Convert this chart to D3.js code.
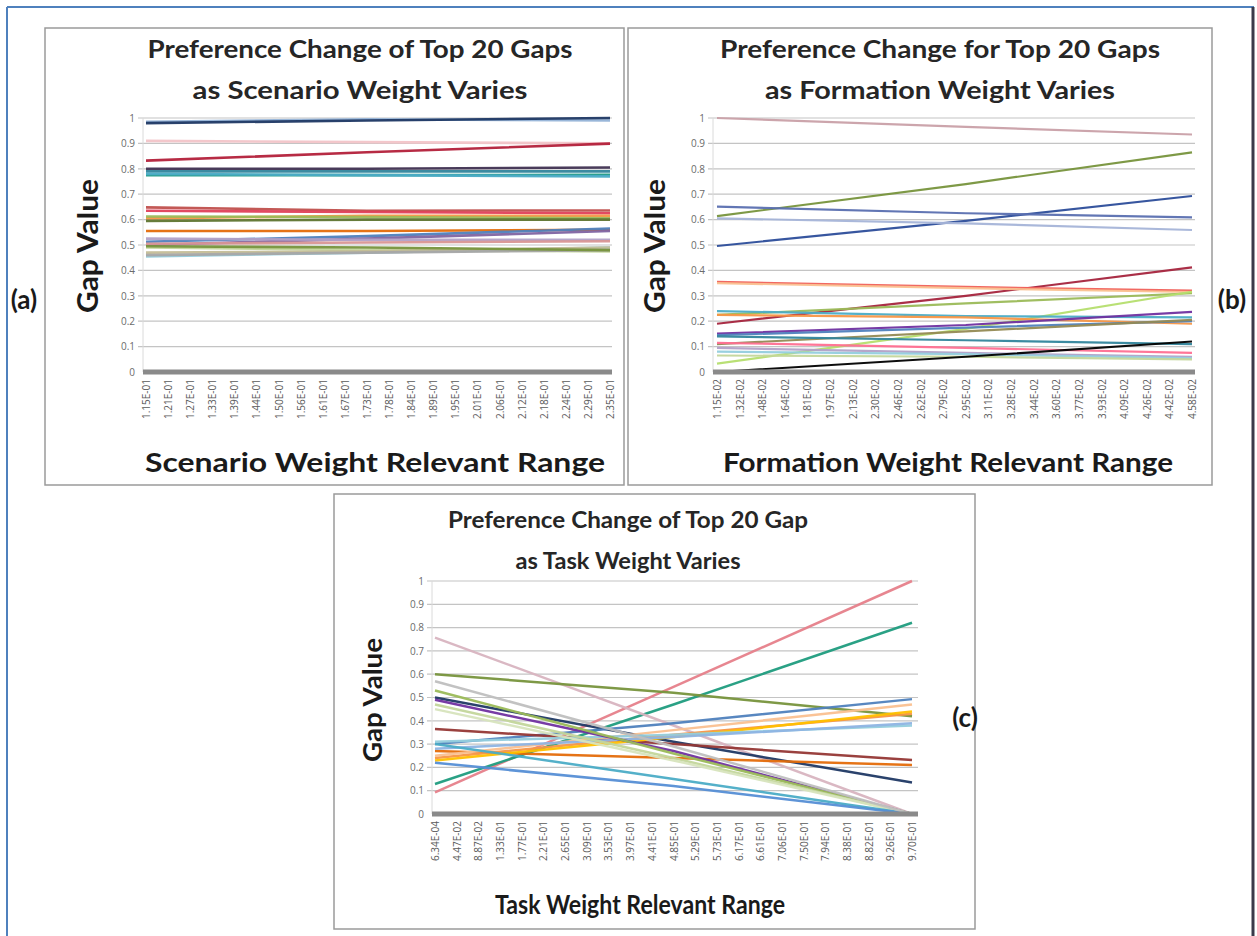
<!DOCTYPE html>
<html>
<head>
<meta charset="utf-8">
<script src="https://cdn.jsdelivr.net/npm/d3@7"></script>
<style>
  body { margin: 0; background: #fff; }
  text { font-family: "Open Sans", "Liberation Sans", sans-serif; }
  .big { font-family: Lato, "Open Sans", sans-serif; font-weight: bold; }
</style>
</head>
<body>
<svg id="fig" width="1257" height="936"></svg>
<script>

// ---- data ----
var yTicks = [0, 0.1, 0.2, 0.3, 0.4, 0.5, 0.6, 0.7, 0.8, 0.9, 1];

var scenarioLabels = ["1.15E-01","1.21E-01","1.27E-01","1.33E-01","1.39E-01","1.44E-01","1.50E-01","1.56E-01",
  "1.61E-01","1.67E-01","1.73E-01","1.78E-01","1.84E-01","1.89E-01","1.95E-01","2.01E-01","2.06E-01",
  "2.12E-01","2.18E-01","2.24E-01","2.29E-01","2.35E-01"];
var formationLabels = ["1.15E-02","1.32E-02","1.48E-02","1.64E-02","1.81E-02","1.97E-02","2.13E-02","2.30E-02",
  "2.46E-02","2.62E-02","2.79E-02","2.95E-02","3.11E-02","3.28E-02","3.44E-02","3.60E-02","3.77E-02",
  "3.93E-02","4.09E-02","4.26E-02","4.42E-02","4.58E-02"];
var taskLabels = ["6.34E-04","4.47E-02","8.87E-02","1.33E-01","1.77E-01","2.21E-01","2.65E-01","3.09E-01",
  "3.53E-01","3.97E-01","4.41E-01","4.85E-01","5.29E-01","5.73E-01","6.17E-01","6.61E-01","7.06E-01",
  "7.50E-01","7.94E-01","8.38E-01","8.82E-01","9.26E-01","9.70E-01"];

// categories at which each gap value was read (first, middle, last)
var scenarioSamples = ["1.15E-01", "1.73E-01", "2.35E-01"];
var formationSamples = ["1.15E-02", "2.95E-02", "4.58E-02"];
var taskSamples = ["6.34E-04", "4.85E-01", "9.70E-01"];

var scenarioGaps = [
  [0.91, 0.905, 0.90], [0.985, 0.995, 0.99], [0.98, 0.99, 1.0], [0.832, 0.865, 0.899],
  [0.80, 0.80, 0.805], [0.79, 0.79, 0.79], [0.775, 0.775, 0.776], [0.78, 0.775, 0.77],
  [0.648, 0.635, 0.636], [0.635, 0.63, 0.625], [0.605, 0.615, 0.615], [0.612, 0.61, 0.605],
  [0.595, 0.60, 0.60], [0.555, 0.555, 0.56], [0.513, 0.535, 0.565], [0.50, 0.525, 0.555],
  [0.525, 0.52, 0.52], [0.505, 0.51, 0.515], [0.49, 0.48, 0.475], [0.455, 0.47, 0.49],
  [0.47, 0.475, 0.49], [0.46, 0.47, 0.48], [0.495, 0.49, 0.48]
];
var formationGaps = [
  [1.0, 0.965, 0.935], [0.614, 0.74, 0.865], [0.496, 0.595, 0.693], [0.651, 0.625, 0.609],
  [0.605, 0.585, 0.559], [0.19, 0.30, 0.412], [0.355, 0.335, 0.32], [0.35, 0.33, 0.315],
  [0.225, 0.27, 0.31], [0.033, 0.17, 0.316], [0.24, 0.22, 0.215], [0.225, 0.215, 0.19],
  [0.151, 0.185, 0.237], [0.145, 0.175, 0.20], [0.11, 0.16, 0.205], [0.14, 0.125, 0.11],
  [0.115, 0.095, 0.075], [0.095, 0.075, 0.06], [0.08, 0.07, 0.055], [0.065, 0.06, 0.05],
  [0.0, 0.06, 0.12]
];
var taskGaps = [
  [0.093, 0.546, 1.0], [0.129, 0.47, 0.821], [0.757, 0.38, 0.0], [0.60, 0.52, 0.42],
  [0.50, 0.31, 0.135], [0.30, 0.39, 0.493], [0.365, 0.30, 0.232], [0.27, 0.24, 0.21],
  [0.24, 0.34, 0.43], [0.25, 0.36, 0.47], [0.23, 0.33, 0.44], [0.31, 0.34, 0.38],
  [0.28, 0.33, 0.39], [0.49, 0.27, 0.0], [0.53, 0.26, 0.0], [0.47, 0.24, 0.0],
  [0.45, 0.23, 0.0], [0.30, 0.15, 0.0], [0.22, 0.12, 0.0], [0.57, 0.29, 0.0]
];

var scenarioColors = ["#f2c4c8","#95b3d7","#1f3864","#b3203a","#403152","#31859c","#1d9a86","#4bacc6",
  "#c0504d","#e0405a","#f79646","#9bbb59","#5f7530","#e46c0a","#4f81bd","#8064a2",
  "#b2a1c7","#d99694","#c3d69b","#93cddd","#c4bd97","#a6a6a6","#77933c"];
var formationColors = ["#c9a0a8","#77933c","#2c4d9a","#5a6fb0","#a5b4d8","#a5243d","#f0605a","#fac090",
  "#9bbb59","#b5de6e","#4bacc6","#f79646","#7030a0","#4f81bd","#948a54","#31859c",
  "#ff6f91","#b2a1c7","#93cddd","#c3d69b","#000000"];
var taskColors = ["#e6808a","#1f9c7e","#d8b4c0","#77933c","#1f3864","#4f81bd","#953735","#e46c0a",
  "#f79646","#fac090","#ffc000","#93cddd","#8eb4e3","#7030a0","#9bbb59","#c3d69b",
  "#d7e4bd","#4bacc6","#558ed5","#bfbfbf"];

var svg = d3.select("#fig");

// outer frame
svg.append("line").attr("x1", 7).attr("x2", 1254).attr("y1", 7).attr("y2", 7)
  .attr("stroke", "#4f81bd").attr("stroke-width", 2);
svg.append("line").attr("x1", 7).attr("x2", 7).attr("y1", 7).attr("y2", 936)
  .attr("stroke", "#4f81bd").attr("stroke-width", 2);
svg.append("line").attr("x1", 1253).attr("x2", 1253).attr("y1", 7).attr("y2", 936)
  .attr("stroke", "#3a3a4a").attr("stroke-width", 3);

function drawPanel(p) {
  var g = svg.append("g");

  g.append("rect")
    .attr("x", p.box[0]).attr("y", p.box[1])
    .attr("width", p.box[2] - p.box[0]).attr("height", p.box[3] - p.box[1])
    .attr("fill", "#fff").attr("stroke", "#9a9a9a").attr("stroke-width", 1.5);

  var x = d3.scalePoint().domain(p.labels).range(p.xRange);
  var y = d3.scaleLinear().domain([0, 1]).range(p.yRange);

  // gridlines
  g.append("g").selectAll("line").data(yTicks.slice(1)).join("line")
    .attr("x1", p.plotX[0] - 5).attr("x2", p.plotX[1])
    .attr("y1", function(d) { return y(d); }).attr("y2", function(d) { return y(d); })
    .attr("stroke", "#c4c4c4").attr("stroke-width", 1.2);
  g.append("line")
    .attr("x1", p.plotX[0]).attr("x2", p.plotX[0])
    .attr("y1", y(1)).attr("y2", y(0))
    .attr("stroke", "#dadada");

  // y axis labels
  var yAxis = g.append("g")
    .attr("transform", "translate(" + (p.plotX[0] - 6) + ",0)")
    .call(d3.axisLeft(y).tickValues(yTicks).tickSize(0).tickPadding(2)
      .tickFormat(function(d) { return String(+d.toFixed(1)); }));
  yAxis.select(".domain").remove();
  yAxis.selectAll("text").attr("fill", "#6b6b6b").style("font-size", "10px");

  // series
  var line = d3.line()
    .x(function(d) { return x(d[0]); })
    .y(function(d) { return y(d[1]); });
  g.append("g").selectAll("path").data(p.gaps).join("path")
    .attr("d", function(vals) { return line(vals.map(function(v, i) { return [p.samples[i], v]; })); })
    .attr("fill", "none")
    .attr("stroke", function(d, i) { return p.colors[i]; })
    .attr("stroke-width", p.lineWidth)
    .attr("stroke-opacity", 0.95);

  // x axis
  var xAxis = g.append("g")
    .attr("transform", "translate(0," + y(0) + ")")
    .call(d3.axisBottom(x).tickSize(0));
  xAxis.select(".domain").remove();
  xAxis.selectAll("text")
    .attr("transform", "rotate(-90)")
    .attr("text-anchor", "end")
    .attr("x", -7).attr("y", 0).attr("dy", "0.35em")
    .attr("fill", "#5a5a5a")
    .style("font-size", "10px");
  g.append("line")
    .attr("x1", p.plotX[0]).attr("x2", p.plotX[1])
    .attr("y1", y(0)).attr("y2", y(0))
    .attr("stroke", "#8a8a8a").attr("stroke-width", 5);

  // titles
  p.title.forEach(function(t, i) {
    g.append("text").attr("class", "big")
      .attr("x", p.titleX).attr("y", p.titleY[i])
      .attr("text-anchor", "middle")
      .attr("textLength", p.titleLen[i]).attr("lengthAdjust", "spacingAndGlyphs")
      .style("font-size", p.titleSize + "px").attr("fill", "#262626")
      .text(t);
  });
  g.append("text").attr("class", "big")
    .attr("x", p.xTitle[0]).attr("y", p.xTitle[1])
    .attr("text-anchor", "middle")
    .attr("textLength", p.xTitle[2]).attr("lengthAdjust", "spacingAndGlyphs")
    .style("font-size", p.xTitle[3] + "px").attr("fill", "#1a1a1a")
    .text(p.xTitleText);
  g.append("text").attr("class", "big")
    .attr("transform", "translate(" + p.yTitle[0] + "," + p.yTitle[1] + ") rotate(-90)")
    .attr("text-anchor", "middle")
    .attr("textLength", p.yTitle[2]).attr("lengthAdjust", "spacingAndGlyphs")
    .style("font-size", p.yTitle[3] + "px").attr("fill", "#1a1a1a")
    .text("Gap  Value");
  svg.append("text").attr("class", "big")
    .attr("x", p.tag[0]).attr("y", p.tag[1])
    .attr("text-anchor", "middle")
    .style("font-size", "26px").attr("fill", "#1a1a1a")
    .text(p.tagText);
}

drawPanel({
  box: [45, 28, 624, 485], labels: scenarioLabels, samples: scenarioSamples,
  gaps: scenarioGaps, colors: scenarioColors, lineWidth: 2.6,
  xRange: [146, 610], yRange: [372, 118], plotX: [143, 612],
  title: ["Preference Change of Top 20 Gaps", "as Scenario Weight Varies"],
  titleX: 360, titleY: [58, 99], titleLen: [425, 335], titleSize: 24,
  xTitleText: "Scenario Weight Relevant Range", xTitle: [375, 472, 460, 27],
  yTitle: [98, 246, 134, 28], tag: [24, 309], tagText: "(a)"
});

drawPanel({
  box: [628, 28, 1212, 485], labels: formationLabels, samples: formationSamples,
  gaps: formationGaps, colors: formationColors, lineWidth: 2.2,
  xRange: [717, 1192], yRange: [372, 118], plotX: [713, 1195],
  title: ["Preference Change for Top 20 Gaps", "as Formation Weight Varies"],
  titleX: 940, titleY: [58, 99], titleLen: [440, 350], titleSize: 24,
  xTitleText: "Formation Weight Relevant Range", xTitle: [948, 472, 450, 27],
  yTitle: [665, 246, 134, 28], tag: [1232, 309], tagText: "(b)"
});

drawPanel({
  box: [334, 494, 975, 929], labels: taskLabels, samples: taskSamples,
  gaps: taskGaps, colors: taskColors, lineWidth: 2.5,
  xRange: [435, 912], yRange: [814, 581], plotX: [432, 918],
  title: ["Preference Change of Top 20 Gap", "as Task Weight Varies"],
  titleX: 628, titleY: [528, 569], titleLen: [360, 225], titleSize: 23,
  xTitleText: "Task Weight Relevant Range", xTitle: [640, 914, 290, 26],
  yTitle: [382, 700, 124, 26], tag: [965, 727], tagText: "(c)"
});

</script>
</body>
</html>
